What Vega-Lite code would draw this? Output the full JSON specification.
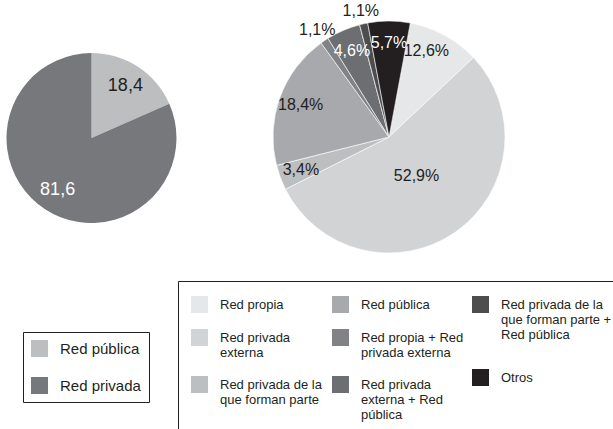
{
  "$schema": "https://vega.github.io/schema/vega-lite/v6.json",
  "padding": {"left": 5, "top": 0, "right": 0, "bottom": 0},
  "bounds": "flush",
  "spacing": 0,
  "background": "white",
  "config": {"font": "Liberation Sans", "view": {"stroke": null}},
  "resolve": {"scale": {"color": "independent", "theta": "independent", "fill": "independent"}},
  "hconcat": [
    {
      "width": 173,
      "height": 276,
      "data": {"values": [
        {"cat": "Red pública", "pct": 18.4, "o": 1},
        {"cat": "Red privada", "pct": 81.6, "o": 2}
      ]},
      "transform": [{"calculate": "replace(format(datum.pct, '.1f'), '.', ',')", "as": "lbl"}],
      "layer": [
        {
          "mark": {"type": "arc", "outerRadius": 85},
          "encoding": {
            "theta": {"field": "pct", "type": "quantitative", "stack": true},
            "order": {"field": "o", "type": "quantitative"},
            "color": {
              "field": "cat", "type": "nominal",
              "scale": {"domain": ["Red pública", "Red privada"], "range": ["#bcbec0", "#77787b"]},
              "legend": {
                "title": null, "orient": "none", "legendX": 18, "legendY": 332,
                "direction": "vertical", "symbolType": "square", "symbolSize": 289,
                "symbolStrokeWidth": 0, "symbolOpacity": 1, "labelFontSize": 15,
                "labelColor": "#231f20", "labelOffset": 12, "rowPadding": 20,
                "padding": 8, "strokeColor": "#231f20", "labelLimit": 200
              }
            }
          }
        },
        {
          "mark": {"type": "text", "radius": 62, "fontSize": 18},
          "encoding": {
            "theta": {"field": "pct", "type": "quantitative", "stack": true},
            "order": {"field": "o", "type": "quantitative"},
            "text": {"field": "lbl", "type": "nominal"},
            "color": {"condition": {"test": "datum.cat == 'Red privada'", "value": "white"}, "value": "#231f20"}
          }
        }
      ]
    },
    {
      "spacing": 7,
      "bounds": "flush",
      "vconcat": [
        {
          "width": 422,
          "height": 274,
          "data": {"values": [
            {"cat": "Red propia", "pct": 12.6, "o": 1},
            {"cat": "Red privada externa", "pct": 52.9, "o": 2},
            {"cat": "Red privada de la que forman parte", "pct": 3.4, "o": 3},
            {"cat": "Red pública", "pct": 18.4, "o": 4},
            {"cat": "Red propia + Red privada externa", "pct": 1.1, "o": 5},
            {"cat": "Red privada externa + Red pública", "pct": 4.6, "o": 6},
            {"cat": "Red privada de la que forman parte + Red pública", "pct": 1.1, "o": 7},
            {"cat": "Otros", "pct": 5.7, "o": 8}
          ]},
          "transform": [
            {"stack": "pct", "groupby": [], "sort": [{"field": "o", "order": "ascending"}], "as": ["s0", "s1"]},
            {"calculate": "(datum.s0 + datum.s1) / 2", "as": "mid"},
            {"calculate": "replace(format(datum.pct, '.1f'), '.', ',') + '%'", "as": "lbl"}
          ],
          "layer": [
            {
              "mark": {"type": "arc", "outerRadius": 116, "stroke": "white", "strokeWidth": 0.6},
              "encoding": {
                "theta": {"field": "s0", "type": "quantitative", "scale": {"nice": false, "zero": true}},
                "theta2": {"field": "s1"},
                "color": {
                  "field": "cat", "type": "nominal",
                  "scale": {
                    "domain": ["Red propia", "Red privada externa", "Red privada de la que forman parte", "Red pública", "Red propia + Red privada externa", "Red privada externa + Red pública", "Red privada de la que forman parte + Red pública", "Otros"],
                    "range": ["#e6e7e8", "#d1d3d4", "#bcbec0", "#a7a9ac", "#808285", "#6d6e71", "#4d4d4f", "#231f20"]
                  },
                  "legend": {
                    "title": null, "orient": "none", "legendX": 0, "legendY": 283,
                    "values": ["Red propia", "Red privada externa", "Red privada de la que forman parte", "Red pública", "Red propia + Red privada externa", "Red privada externa + Red pública"],
                    "columns": 2,
                    "symbolType": "square", "symbolSize": 289, "symbolStrokeWidth": 0, "symbolOpacity": 1,
                    "labelFontSize": 13, "labelColor": "#231f20", "labelOffset": 12,
                    "rowPadding": 16, "columnPadding": 10, "padding": 13, "labelLimit": 300,
                    "labelExpr": "datum.label == 'Red privada externa' ? ['Red privada', 'externa'] : datum.label == 'Red privada de la que forman parte' ? ['Red privada de la', 'que forman parte'] : datum.label == 'Red propia + Red privada externa' ? ['Red propia + Red', 'privada externa'] : datum.label == 'Red privada externa + Red pública' ? ['Red privada', 'externa + Red', 'pública'] : datum.label"
                  }
                }
              }
            },
            {
              "transform": [{"filter": "datum.cat == 'Otros' || datum.cat == 'Red privada de la que forman parte + Red pública'"}],
              "mark": {"type": "arc", "outerRadius": 116, "stroke": "white", "strokeWidth": 0.6},
              "encoding": {
                "theta": {"field": "s0", "type": "quantitative"},
                "theta2": {"field": "s1"},
                "fill": {
                  "field": "cat", "type": "nominal",
                  "scale": {
                    "domain": ["Red privada de la que forman parte + Red pública", "Otros"],
                    "range": ["#4d4d4f", "#231f20"]
                  },
                  "legend": {
                    "title": null, "orient": "none", "legendX": 281, "legendY": 283,
                    "symbolType": "square", "symbolSize": 289, "symbolStrokeWidth": 0, "symbolOpacity": 1,
                    "labelFontSize": 13, "labelColor": "#231f20", "labelOffset": 12,
                    "rowPadding": 27, "padding": 13, "labelLimit": 300,
                    "labelExpr": "datum.label == 'Red privada de la que forman parte + Red pública' ? ['Red privada de la', 'que forman parte +', 'Red pública'] : datum.label"
                  }
                }
              }
            },
            {
              "transform": [{"filter": "datum.pct >= 2 && datum.pct < 50"}],
              "mark": {"type": "text", "radius": 94, "fontSize": 16},
              "encoding": {
                "theta": {"field": "mid", "type": "quantitative"},
                "text": {"field": "lbl", "type": "nominal"},
                "color": {"condition": {"test": "datum.cat == 'Otros' || datum.cat == 'Red privada externa + Red pública'", "value": "white"}, "value": "#231f20"}
              }
            },
            {
              "transform": [{"filter": "datum.pct < 2"}],
              "mark": {"type": "text", "radius": 129, "fontSize": 16, "color": "#231f20"},
              "encoding": {
                "theta": {"field": "mid", "type": "quantitative"},
                "text": {"field": "lbl", "type": "nominal"}
              }
            },
            {
              "transform": [{"filter": "datum.pct >= 50"}],
              "mark": {"type": "text", "radius": 48, "fontSize": 16, "color": "#231f20"},
              "encoding": {
                "theta": {"field": "mid", "type": "quantitative"},
                "text": {"field": "lbl", "type": "nominal"}
              }
            }
          ]
        },
        {
          "width": 440,
          "height": 165,
          "view": {"stroke": "#231f20", "strokeWidth": 1},
          "data": {"values": [{"box": "leyenda"}]},
          "mark": {"type": "rect", "opacity": 0},
          "encoding": {}
        }
      ]
    }
  ]
}
